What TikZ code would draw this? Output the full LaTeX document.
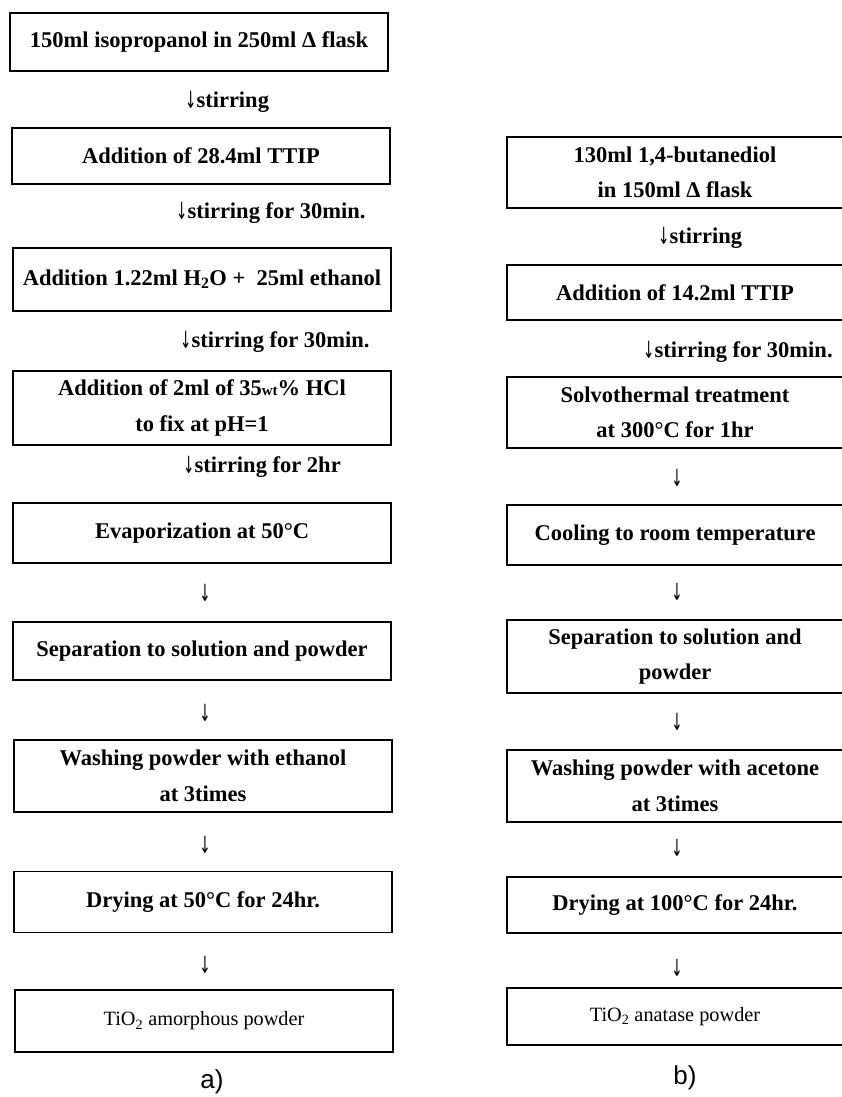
\documentclass[tikz,border=0pt]{standalone}
\usepackage{fontspec}
\setmainfont{Liberation Serif}
\newfontfamily\labfont{Liberation Sans}
\newfontfamily\arrfont{DejaVu Sans}
\newcommand{\dnarr}{\raisebox{-0.5pt}{\scalebox{0.6}[1.05]{\arrfont\mdseries ↓}}}
\begin{document}
\begin{tikzpicture}[x=1pt,y=-1pt,
  stepbox/.style={draw, line width=1.7pt, inner sep=0pt, align=center,
    font=\fontsize{22.5}{35.5}\selectfont\bfseries},
  lbox/.style={stepbox, minimum width=378pt},
  rbox/.style={stepbox, minimum width=336pt},
  flow/.style={inner sep=0pt, anchor=west, font=\fontsize{22.5}{26}\selectfont\bfseries},
  flowc/.style={inner sep=0pt, font=\fontsize{22.5}{26}\selectfont\bfseries},
  endtext/.style={font=\fontsize{20.3}{24}\selectfont},
  caption/.style={inner sep=0pt, font=\fontsize{26}{30}\selectfont\labfont}
]
\useasboundingbox (0,0) rectangle (841,1097);
% ---------- column a ----------
\node[lbox, minimum height=58pt] (a1) at (199,42) {150ml isopropanol in 250ml Δ flask};
\node[flow] (sa1) at (185,102) {\dnarr stirring};
\node[lbox, minimum height=56pt] (a2) at (201,156) {Addition of 28.4ml TTIP};
\node[flow] (sa2) at (176,213) {\dnarr stirring for 30min.};
\node[lbox, minimum height=63pt] (a3) at (202,279.5) {Addition 1.22ml H\textsubscript{2}O +\ \ 25ml ethanol};
\node[flow] (sa3) at (180,342) {\dnarr stirring for 30min.};
\node[lbox, minimum height=74pt] (a4) at (202,408) {Addition of 2ml of 35{\fontsize{15}{15}\selectfont wt}\% HCl\\to fix at pH=1};
\node[flow] (sa4) at (183,467) {\dnarr stirring for 2hr};
\node[lbox, minimum height=60pt] (a5) at (202,533) {Evaporization at 50°C};
\node[flowc] (sa5) at (205,593) {\dnarr};
\node[lbox, minimum height=58pt] (a6) at (202,651) {Separation to solution and powder};
\node[flowc] (sa6) at (205,713) {\dnarr};
\node[lbox, minimum height=72pt] (a7) at (203,776) {Washing powder with ethanol\\at 3times};
\node[flowc] (sa7) at (205,845) {\dnarr};
\node[lbox, minimum height=61pt] (a8) at (203,902) {Drying at 50°C for 24hr.};
\node[flowc] (sa8) at (205,965) {\dnarr};
\node[lbox, minimum height=62pt, endtext] (a9) at (204,1021) {TiO\textsubscript{2} amorphous powder};
\node[caption] (capa) at (212,1082) {a)};
% ---------- column b ----------
\node[rbox, minimum height=71pt] (b1) at (675,172.5) {130ml 1,4-butanediol\\in 150ml Δ flask};
\node[flow] (sb1) at (658,238) {\dnarr stirring};
\node[rbox, minimum height=55pt] (b2) at (675,292.5) {Addition of 14.2ml TTIP};
\node[flow] (sb2) at (643,352) {\dnarr stirring for 30min.};
\node[rbox, minimum height=71pt] (b3) at (675,412.5) {Solvothermal treatment\\at 300°C for 1hr};
\node[flowc] (sb3) at (677,478) {\dnarr};
\node[rbox, minimum height=60pt] (b4) at (675,535) {Cooling to room temperature};
\node[flowc] (sb4) at (677,592) {\dnarr};
\node[rbox, minimum height=73pt] (b5) at (675,656.5) {Separation to solution and\\powder};
\node[flowc] (sb5) at (677,722) {\dnarr};
\node[rbox, minimum height=72pt] (b6) at (675,786) {Washing powder with acetone\\at 3times};
\node[flowc] (sb6) at (677,848) {\dnarr};
\node[rbox, minimum height=56pt] (b7) at (675,905) {Drying at 100°C for 24hr.};
\node[flowc] (sb7) at (677,968) {\dnarr};
\node[rbox, minimum height=57pt, endtext] (b8) at (675,1016.5) {TiO\textsubscript{2} anatase powder};
\node[caption] (capb) at (685,1078) {b)};
\end{tikzpicture}
\end{document}
